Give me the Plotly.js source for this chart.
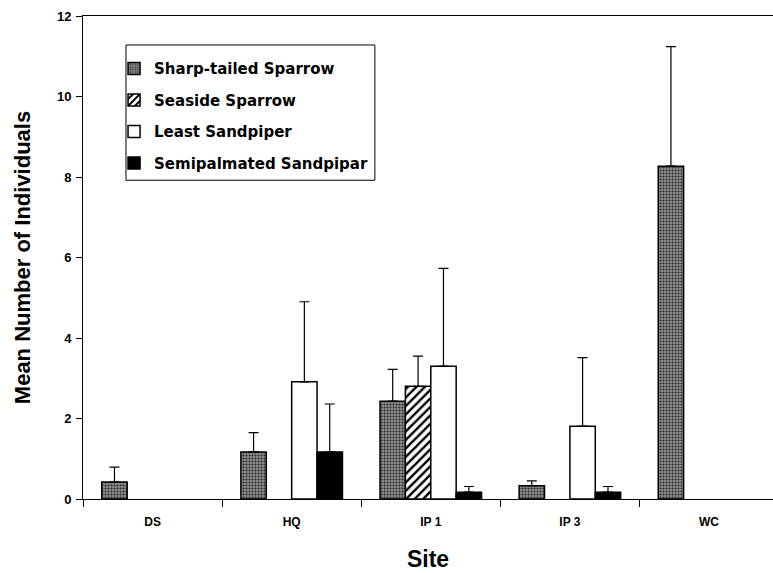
<!DOCTYPE html>
<html>
<head>
<meta charset="utf-8">
<script src="https://cdn.plot.ly/plotly-3.0.1.min.js"></script>
<style>html,body{margin:0;padding:0;background:#fff;}#chart{width:773px;height:573px;}</style>
</head>
<body>
<div id="chart"></div>
<script>
const sites = ["DS", "HQ", "IP 1", "IP 3", "WC"];
const seriesNames = ["Sharp-tailed Sparrow", "Seaside Sparrow", "Least Sandpiper", "Semipalmated Sandpipar"];
const sharpTailed = [0.42, 1.17, 2.43, 0.33, 8.27];
const sharpTailedErr = [0.37, 0.48, 0.79, 0.12, 2.97];
const seaside = [null, null, 2.80, null, null];
const seasideErr = [0, 0, 0.75, 0, 0];
const leastSandpiper = [null, 2.91, 3.30, 1.81, null];
const leastSandpiperErr = [0, 1.99, 2.43, 1.70, 0];
const semipalmated = [null, 1.17, 0.17, 0.17, null];
const semipalmatedErr = [0, 1.19, 0.14, 0.14, 0];
const yTicks = [0, 2, 4, 6, 8, 10, 12];

const zeros = sites.map(() => 0);
function errBar(arr) {
  return {type: 'data', symmetric: false, array: arr, arrayminus: zeros,
          color: '#000', thickness: 1.2, width: 5, visible: true};
}
const lineSpec = {color: '#000', width: 1.5};
const traces = [
  {type: 'bar', name: seriesNames[0], x: sites, y: sharpTailed, error_y: errBar(sharpTailedErr),
   legendgroup: 'a',
   marker: {color: '#777', line: lineSpec,
            pattern: {shape: '.', fgcolor: '#2a2a2a', bgcolor: '#8f8f8f', size: 3, solidity: 0.4}}},
  {type: 'bar', name: seriesNames[1], x: sites, y: seaside, error_y: errBar(seasideErr),
   legendgroup: 'b',
   marker: {color: '#fff', line: lineSpec,
            pattern: {shape: '/', fgcolor: '#000', bgcolor: '#fff', size: 6, solidity: 0.4}}},
  {type: 'bar', name: seriesNames[2], x: sites, y: leastSandpiper, error_y: errBar(leastSandpiperErr),
   legendgroup: 'c',
   marker: {color: '#fff', line: lineSpec}},
  {type: 'bar', name: seriesNames[3], x: sites, y: semipalmated, error_y: errBar(semipalmatedErr),
   legendgroup: 'd',
   marker: {color: '#000', line: lineSpec}}
];

const fontFam = 'Arial, "Liberation Sans", Helvetica, sans-serif';
const layout = {
  width: 773, height: 573,
  margin: {l: 83, r: 0, t: 16, b: 74},
  paper_bgcolor: '#fff', plot_bgcolor: '#fff',
  barmode: 'group', bargap: 0.27, bargroupgap: 0,
  font: {family: fontFam, color: '#000', size: 12, weight: 'bold'},
  showlegend: true,
  legend: {x: 0.045, y: 0.925, xanchor: 'left', yanchor: 'top',
           bgcolor: 'rgba(255,255,255,0)', borderwidth: 0,
           font: {family: '"DejaVu Sans", sans-serif', size: 15, color: '#000', weight: 'bold'},
           tracegroupgap: 9, traceorder: 'grouped', itemwidth: 30},
  shapes: [{type: 'rect', xref: 'paper', yref: 'paper', x0: 0.0623, x1: 0.423, y0: 0.66, y1: 0.94,
            line: {color: '#000', width: 1}, fillcolor: '#fff', layer: 'below'}],
  xaxis: {
    type: 'category', range: [-0.5, 4.46],
    showline: true, linecolor: '#000', linewidth: 1, mirror: true,
    ticks: 'outside', ticklen: 7, tickcolor: '#000', tickson: 'boundaries',
    showgrid: false, zeroline: false, ticklabelstandoff: 12,
    tickfont: {family: fontFam, size: 12, weight: 'bold'},
    title: {text: 'Site', font: {family: fontFam, size: 23, weight: 'bold'}, standoff: 22}
  },
  yaxis: {
    range: [0, 12], tickvals: yTicks, ticktext: yTicks.map(String),
    showline: true, linecolor: '#000', linewidth: 1,
    ticks: 'outside', ticklen: 6, tickcolor: '#000',
    showgrid: false, zeroline: false, ticklabelstandoff: 2,
    tickfont: {family: fontFam, size: 13, weight: 'bold'},
    title: {text: 'Mean Number of Individuals', font: {family: fontFam, size: 22, weight: 'bold'}, standoff: 20}
  }
};
Plotly.newPlot('chart', traces, layout, {displayModeBar: false, staticPlot: true});
</script>
</body>
</html>
